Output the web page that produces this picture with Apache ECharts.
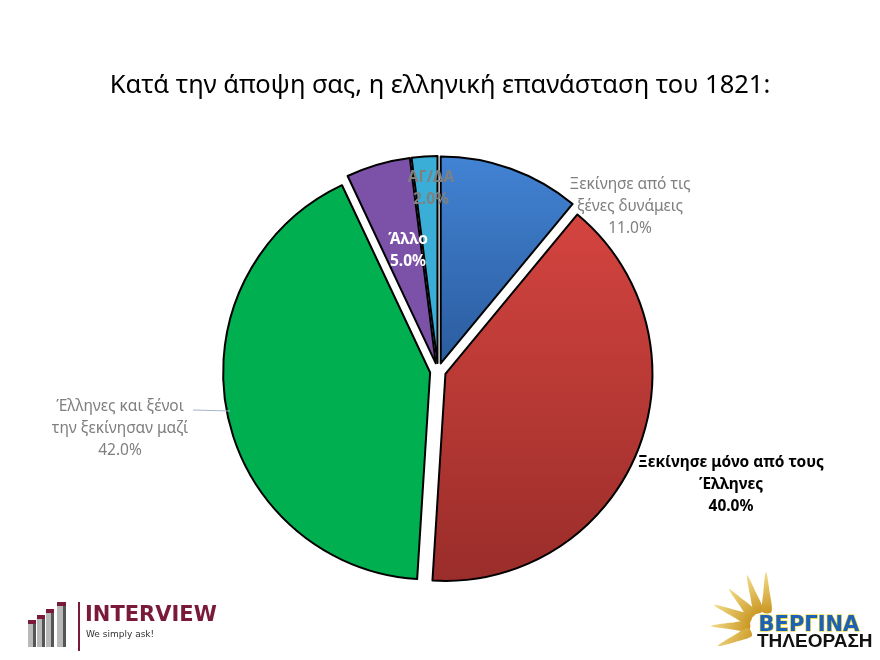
<!DOCTYPE html>
<html>
<head>
<meta charset="utf-8">
<script src="https://cdn.jsdelivr.net/npm/echarts@6/dist/echarts.min.js"></script>
<style>html,body{margin:0;padding:0;background:#fff}#c{width:880px;height:660px}</style>
</head>
<body>
<div id="c"></div>
<script>
const titleText = 'Κατά την άποψη σας, η ελληνική επανάσταση του 1821:';
const categories = ['Ξεκίνησε από τις\nξένες δυνάμεις', 'Ξεκίνησε μόνο από τους\nΈλληνες', 'Έλληνες και ξένοι\nτην ξεκίνησαν μαζί', 'Άλλο', 'ΑΓ/ΔΑ'];
const values = [11.0, 40.0, 42.0, 5.0, 2.0];

const grad = (a, b) => new echarts.graphic.LinearGradient(0, 0, 0, 1, [{offset: 0, color: a}, {offset: 1, color: b}]);
const fills = [grad('#4283d4', '#2b5c9e'), grad('#d4443f', '#9a2d2a'), '#00b050', '#7b52a8', '#3aaed6'];
const labelColors = ['#7f7f7f', '#000000', '#7f7f7f', '#ffffff', '#808080'];
const labelWeights = ['normal', 'bold', 'normal', 'bold', 'bold'];
const labelPos = [[630, 207], [731, 485], [120, 429], [408, 251], [431, 189]];

const chart = echarts.init(document.getElementById('c'));

function ray(x1, y1, x2, y2, w) {
  const dx = x2 - x1, dy = y2 - y1, L = Math.hypot(dx, dy);
  const nx = -dy / L, ny = dx / L;
  return [[x1 + nx * w, y1 + ny * w], [x1 + dx * 0.5 + nx * w * 0.7, y1 + dy * 0.5 + ny * w * 0.7], [x2, y2],
          [x1 + dx * 0.5 - nx * w * 0.7, y1 + dy * 0.5 - ny * w * 0.7], [x1 - nx * w, y1 - ny * w]];
}
const rays = [[767, 612, 766, 572], [759, 612, 747, 575], [753, 615, 729, 589], [750, 620, 714, 605], [749, 626, 711, 626], [750, 632, 718, 646]];
const gold = new echarts.graphic.LinearGradient(0, 0, 1, 1, [{offset: 0, color: '#f3dc8a'}, {offset: 1, color: '#c8941e'}]);

const graphics = [];
rays.forEach(r => graphics.push({type: 'polygon', shape: {points: ray(r[0], r[1], r[2], r[3], 4.5), smooth: 0.3}, style: {fill: gold}}));
graphics.push({type: 'text', left: 758, top: 614, style: {text: 'ΒΕΡΓΙΝΑ', font: 'bold 21px "DejaVu Sans"', fill: '#1d62b8', stroke: '#e6d21a', lineWidth: 1.2}});
graphics.push({type: 'text', left: 757, top: 632, style: {text: 'ΤΗΛΕΟΡΑΣΗ', font: 'bold 19px "Liberation Sans Narrow", "Liberation Sans"', fill: '#111'}});
const bars = [[28, 622], [37, 617], [46, 611], [57, 604]];
bars.forEach((b, i) => {
  const w = i === 3 ? 9 : 8;
  graphics.push({type: 'rect', shape: {x: b[0], y: b[1], width: w, height: 647 - b[1]}, style: {fill: '#b9b9b9'}});
  graphics.push({type: 'rect', shape: {x: b[0] + w - 3, y: b[1], width: 3, height: 647 - b[1]}, style: {fill: '#555'}});
  graphics.push({type: 'rect', shape: {x: b[0], y: b[1] - 2, width: w, height: 4}, style: {fill: '#7a1a3a'}});
});
graphics.push({type: 'rect', shape: {x: 78, y: 602, width: 2, height: 49}, style: {fill: '#7a1a3a'}});
graphics.push({type: 'text', left: 85, top: 605, style: {text: 'INTERVIEW', font: 'bold 21px "DejaVu Sans"', fill: '#7a1a3a'}});
graphics.push({type: 'text', left: 86, top: 630, style: {text: 'We simply ask!', font: '9px "DejaVu Sans"', fill: '#333'}});

// leader line for the green slice label
graphics.push({type: 'line', shape: {x1: 193, y1: 410, x2: 230, y2: 411}, style: {stroke: '#a6b6c9', lineWidth: 1}, z: 10});
// data labels, built from categories / values
categories.forEach((c, i) => {
  graphics.push({type: 'text', x: labelPos[i][0], y: labelPos[i][1], z: 20, style: {
    text: c + '\n' + values[i].toFixed(1) + '%', align: 'center', verticalAlign: 'middle',
    font: labelWeights[i] + ' 15.5px "Noto Sans"', lineHeight: 22, fill: labelColors[i]}});
});

chart.setOption({
  backgroundColor: '#ffffff',
  title: {text: titleText, left: 'center', top: 68, textStyle: {fontFamily: '"Noto Sans"', fontSize: 25.5, fontWeight: 'normal', color: '#000'}},
  graphic: graphics,
  series: [{
    type: 'pie',
    center: [438, 371],
    radius: 207,
    startAngle: 90,
    clockwise: true,
    animation: false,
    selectedMode: 'multiple',
    selectedOffset: 8,
    emphasis: {disabled: true},
    itemStyle: {borderColor: '#000', borderWidth: 2},
    label: {show: false},
    labelLine: {show: false},
    data: categories.map((c, i) => ({
      name: c, value: values[i], selected: true,
      itemStyle: {color: fills[i]}
    }))
  }]
});
</script>
</body>
</html>
